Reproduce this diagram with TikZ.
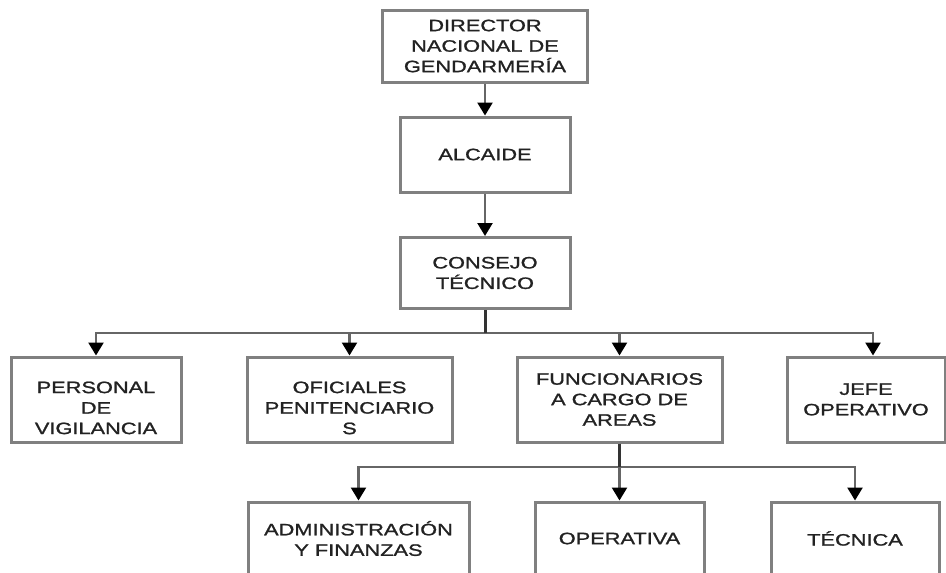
\documentclass[tikz,border=0pt]{standalone}
\usepackage{fontspec}
\setmainfont[FakeStretch=1.32,FakeBold=1.3]{Liberation Sans}
\usetikzlibrary{arrows.meta}
\definecolor{boxgray}{HTML}{808080}
\definecolor{linegray}{HTML}{666666}
\definecolor{trunkgray}{HTML}{333333}
\definecolor{txt}{HTML}{222222}
\newcommand{\lowtext}[1]{\raisebox{-10pt}[\height][\depth]{\begin{tabular}{@{}c@{}}#1\end{tabular}}}
\begin{document}
\begin{tikzpicture}[x=1pt,y=-1pt,
  box/.style={draw=boxgray,line width=3pt,inner sep=0pt,align=center,text=txt,
    font=\fontsize{16.5}{20.5}\selectfont},
  conn/.style={draw=linegray,line width=2.5pt,-{Triangle[width=15pt,length=13pt,black]}},
  trunk/.style={draw=trunkgray,line width=3pt}]
\useasboundingbox (0,0) rectangle (946,573);
\clip (0,0) rectangle (946,573);
% top chain
\node[box,minimum width=205pt,minimum height=72pt] (dir) at (485,46) {DIRECTOR\\NACIONAL DE\\GENDARMERÍA};
\node[box,minimum width=170pt,minimum height=75pt] (alc) at (485,154.5) {ALCAIDE};
\node[box,minimum width=170pt,minimum height=71pt] (con) at (485,273) {CONSEJO\\TÉCNICO};
% second row
\node[box,minimum width=170pt,minimum height=85pt] (per) at (96,399.5) {\lowtext{PERSONAL\\DE\\VIGILANCIA}};
\node[box,minimum width=205pt,minimum height=85pt] (ofi) at (349.5,399.5) {\lowtext{OFICIALES\\PENITENCIARIO\\S}};
\node[box,minimum width=205pt,minimum height=85pt] (fun) at (619.5,399.5) {FUNCIONARIOS\\A CARGO DE\\AREAS};
\node[box,minimum width=158pt,minimum height=85pt] (jef) at (866,399.5) {JEFE\\OPERATIVO};
% third row
\node[box,minimum width=221pt,minimum height=73pt] (adm) at (358.5,538.5) {ADMINISTRACIÓN\\Y FINANZAS};
\node[box,minimum width=169pt,minimum height=73pt] (ope) at (619.5,538.5) {OPERATIVA};
\node[box,minimum width=168pt,minimum height=73pt] (tec) at (855,538.5) {TÉCNICA};
% connectors
\draw[conn] (dir) -- (alc);
\draw[conn] (alc) -- (con);
\coordinate (bus) at (485,333);
\draw[conn] (bus) -| (per.north);
\draw[conn] (bus) -| (ofi.north);
\draw[conn] (bus) -| (fun.north);
\draw[conn] (bus) -| ([xshift=7pt]jef.north);
\draw[trunk] (con.south) -- (bus);
\coordinate (bus2) at (619.5,467);
\draw[conn] (bus2) -| (adm.north);
\draw[conn] (bus2) -- (ope.north);
\draw[conn] (bus2) -| (tec.north);
\draw[trunk] (fun.south) -- (bus2);
\end{tikzpicture}
\end{document}
